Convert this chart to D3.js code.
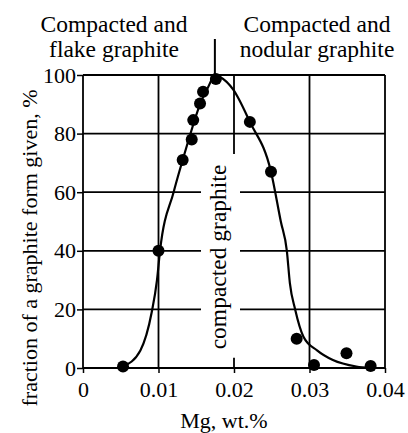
<!DOCTYPE html>
<html>
<head>
<meta charset="utf-8">
<script src="https://cdn.jsdelivr.net/npm/d3@7"></script>
</head>
<body style="margin:0">
<svg id="plotarea" width="408" height="433"></svg>
<script>
// ---- data ----
const dotMg  = [0.0053, 0.0100, 0.0132, 0.0144, 0.0146, 0.0155, 0.0159, 0.0176, 0.0221, 0.0249, 0.0283, 0.0306, 0.0349, 0.0381];
const dotPct = [0.5,    40,     71,     78,     84.6,   90.3,   94.3,   98.6,   84,     67,     10,     1,      5,      0.7];

const curveMg  = [0.0053, 0.0076, 0.0091, 0.0098, 0.0102, 0.0120, 0.0132, 0.0140, 0.0155, 0.0166, 0.0175, 0.0181, 0.0199, 0.0221, 0.0249, 0.0262, 0.0270, 0.0274, 0.0281, 0.0292, 0.0310, 0.0331, 0.0362, 0.0381];
const curvePct = [0.5,    6,      19,     30,     40,     60,     71,     78,     90,     96,     100,    99.4,   95,     84,     67,     50,     40,     29,     20,     10.7,   6,      2.7,    0.5,    0];

const xTicks = [0, 0.01, 0.02, 0.03, 0.04];
const xTickLabels = ["0", "0.01", "0.02", "0.03", "0.04"];
const yTicks = [0, 20, 40, 60, 80, 100];
const yTickLabels = ["0", "20", "40", "60", "80", "100"];

const leftTitle = ["Compacted and", "flake graphite"];
const rightTitle = ["Compacted and", "nodular graphite"];
const middleLabel = "compacted graphite";
const xTitle = "Mg, wt.%";
const yTitle = "fraction of a graphite form given, %";
const boundaryMg = 0.0176;

// ---- layout ----
const svg = d3.select("#plotarea");
const x = d3.scaleLinear().domain([0, 0.04]).range([83, 385]);
const y = d3.scaleLinear().domain([0, 100]).range([368, 75]);
const gridW = 1.8;
const gapX0 = 201, gapX1 = 240;

function setFont(sel, fam, size) {
  sel.attr("font-family", fam).attr("font-size", size)
     .attr("style", `font-family:${fam};font-size:${size}px`);
}
function hline(x1, x2, yy) {
  svg.append("line").attr("x1", x1).attr("x2", x2).attr("y1", yy).attr("y2", yy)
    .attr("stroke", "#000").attr("stroke-width", gridW);
}
function vline(xx, y1, y2) {
  svg.append("line").attr("x1", xx).attr("x2", xx).attr("y1", y1).attr("y2", y2)
    .attr("stroke", "#000").attr("stroke-width", gridW);
}

yTicks.forEach(v => {
  if (v >= 20 && v <= 60) {
    hline(x(0), gapX0, y(v));
    hline(gapX1, x(0.04), y(v));
  } else {
    hline(x(0), x(0.04), y(v));
  }
});

xTicks.forEach(v => {
  if (v === 0.02) {
    vline(x(v), y(100), y(73));
    vline(x(v), y(3.5), y(0));
  } else {
    vline(x(v), y(100), y(0));
  }
});

function styleAxis(g) {
  g.select(".domain").remove();
  g.attr("font-family", null).attr("font-size", null).attr("fill", null).attr("text-anchor", null);
  g.selectAll("line").attr("stroke", "#000").attr("stroke-width", 1.5);
  g.selectAll("text").attr("fill", "#000");
  setFont(g.selectAll("text"), "serif", 22);
  g.selectAll("*").attr("class", null);
  g.attr("class", null);
}

const xAxis = d3.axisBottom(x).tickValues(xTicks).tickFormat((d, i) => xTickLabels[i]).tickSize(5).tickPadding(8);
const gx = svg.append("g").attr("transform", `translate(0,${y(0)})`).call(xAxis);
gx.selectAll("text").attr("text-anchor", "middle");
styleAxis(gx);

const yAxis = d3.axisLeft(y).tickValues(yTicks).tickFormat((d, i) => yTickLabels[i]).tickSize(6).tickPadding(1);
const gy = svg.append("g").attr("transform", `translate(${x(0)},0)`).call(yAxis);
gy.selectAll("text").attr("text-anchor", "end");
styleAxis(gy);

const line = d3.line().x((d, i) => x(curveMg[i])).y((d, i) => y(curvePct[i])).curve(d3.curveMonotoneX);
svg.append("path").datum(curveMg).attr("d", line)
  .attr("fill", "none").attr("stroke", "#000").attr("stroke-width", 2.2);

svg.selectAll("circle").data(dotMg).enter().append("circle")
  .attr("cx", d => x(d)).attr("cy", (d, i) => y(dotPct[i])).attr("r", 6)
  .attr("fill", "#000");

svg.append("line").attr("x1", x(boundaryMg) - 1).attr("x2", x(boundaryMg) - 1)
  .attr("y1", 39).attr("y2", y(100)).attr("stroke", "#000").attr("stroke-width", 2);

function twoLines(lines, cx) {
  const t = svg.append("text").attr("text-anchor", "middle").attr("fill", "#000");
  setFont(t, "Times New Roman", 23.5);
  t.append("tspan").attr("x", cx).attr("y", 32).text(lines[0]);
  t.append("tspan").attr("x", cx).attr("y", 57).text(lines[1]);
}
twoLines(leftTitle, 114);
twoLines(rightTitle, 317);

const mid = svg.append("text").attr("text-anchor", "middle")
  .attr("transform", "translate(226,257) rotate(-90)").attr("fill", "#000").text(middleLabel);
setFont(mid, "Liberation Serif", 23.5);

const xt = svg.append("text").attr("text-anchor", "middle").attr("x", 224).attr("y", 428)
  .attr("fill", "#000").text(xTitle);
setFont(xt, "Times New Roman", 22);
const yt = svg.append("text").attr("text-anchor", "middle")
  .attr("transform", "translate(37,248) rotate(-90)").attr("fill", "#000").text(yTitle);
setFont(yt, "Times New Roman", 22);
</script>
</body>
</html>
